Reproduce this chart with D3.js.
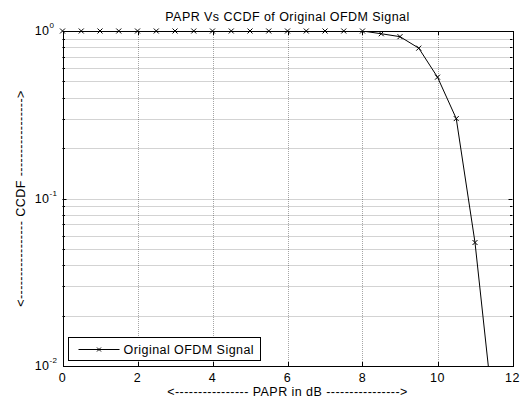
<!DOCTYPE html>
<html>
<head>
<meta charset="utf-8">
<script src="https://cdn.jsdelivr.net/npm/d3@7"></script>
<style>
  body { margin: 0; background: #fff; }
  svg { display: block; font-family: "Liberation Sans", Arial, sans-serif; }
  svg text { letter-spacing: 0.45px; }
</style>
</head>
<body>
<div id="chart"></div>
<script>
// PAPR (dB) vs CCDF of the original OFDM signal
const papr = [0, 0.5, 1, 1.5, 2, 2.5, 3, 3.5, 4, 4.5, 5, 5.5, 6, 6.5, 7, 7.5, 8, 8.5, 9, 9.5, 10, 10.5, 11, 11.5];
const ccdf = [1, 1, 1, 1, 1, 1, 1, 1, 1, 1, 1, 1, 1, 1, 1, 1, 1, 0.963, 0.925, 0.79, 0.53, 0.30, 0.0546, 0.005];
const xTicks = [0, 2, 4, 6, 8, 10, 12];
const yDecades = [-2, -1, 0];

const width = 521, height = 403;
const margin = { top: 31, right: 8.5, bottom: 37, left: 62.5 };
const fs = 12.5;

const svg = d3.select("#chart").append("svg")
    .attr("width", width)
    .attr("height", height);

const x = d3.scaleLinear().domain([0, 12]).range([margin.left, width - margin.right]);
const y = d3.scaleLog().domain([0.01, 1]).range([height - margin.bottom, margin.top]);

const x0 = x.range()[0], x1 = x.range()[1];
const y0 = y.range()[0], y1 = y.range()[1];

// minor log positions (2..9 in each decade)
const minorY = [];
[0.01, 0.1].forEach(base => {
    for (let k = 2; k <= 9; k++) minorY.push(base * k);
});

// grid
const grid = svg.append("g")
    .attr("stroke", "#000")
    .attr("stroke-width", 0.7)
    .attr("stroke-dasharray", "1,1")
    .attr("stroke-opacity", 0.5);

grid.selectAll("line.gy")
    .data(minorY.concat([0.1]))
    .join("line")
    .attr("x1", x0).attr("x2", x1)
    .attr("y1", d => Math.round(y(d)) + 0.5)
    .attr("y2", d => Math.round(y(d)) + 0.5);

grid.selectAll("line.gx")
    .data(xTicks.filter(d => d > 0 && d < 12))
    .join("line")
    .attr("y1", y0).attr("y2", y1)
    .attr("x1", d => Math.round(x(d)) + 0.5)
    .attr("x2", d => Math.round(x(d)) + 0.5);

// tick marks (inward, both sides)
const ticks = svg.append("g").attr("stroke", "#000").attr("stroke-width", 1);
xTicks.forEach(t => {
    const px = Math.round(x(t)) + 0.5;
    ticks.append("line").attr("x1", px).attr("x2", px).attr("y1", y0).attr("y2", y0 - 4);
    ticks.append("line").attr("x1", px).attr("x2", px).attr("y1", y1).attr("y2", y1 + 4);
});
minorY.concat([0.1]).forEach(v => {
    const py = Math.round(y(v)) + 0.5;
    const len = v === 0.1 ? 4 : 2.5;
    ticks.append("line").attr("x1", x0).attr("x2", x0 + len).attr("y1", py).attr("y2", py);
    ticks.append("line").attr("x1", x1).attr("x2", x1 - len).attr("y1", py).attr("y2", py);
});

// frame
svg.append("rect")
    .attr("x", Math.round(x0) + 0.5)
    .attr("y", Math.round(y1) + 0.5)
    .attr("width", Math.round(x1) - Math.round(x0))
    .attr("height", Math.round(y0) - Math.round(y1))
    .attr("fill", "none")
    .attr("stroke", "#000")
    .attr("stroke-width", 1);

// tick labels
svg.append("g")
    .selectAll("text")
    .data(xTicks)
    .join("text")
    .attr("x", d => x(d))
    .attr("y", y0 + 16)
    .attr("text-anchor", "middle")
    .attr("font-size", fs)
    .text(d => d);

const yl = svg.append("g").selectAll("g")
    .data(yDecades)
    .join("g")
    .attr("transform", d => `translate(${x0 - 9},${y(Math.pow(10, d)) + 4})`);
yl.append("text")
    .attr("x", -4)
    .attr("text-anchor", "end")
    .attr("font-size", fs)
    .text("10");
yl.append("text")
    .attr("x", -4)
    .attr("y", -7)
    .attr("font-size", 8)
    .text(d => d);

// clipped data line
svg.append("clipPath").attr("id", "plotclip")
    .append("rect")
    .attr("x", x0).attr("y", y1)
    .attr("width", x1 - x0).attr("height", y0 - y1);

const pts = papr.map((p, i) => [p, ccdf[i]]);
const line = d3.line().x(d => x(d[0])).y(d => y(d[1]));

svg.append("path")
    .datum(pts)
    .attr("clip-path", "url(#plotclip)")
    .attr("d", line)
    .attr("fill", "none")
    .attr("stroke", "#000")
    .attr("stroke-width", 1);

// markers: only those inside the axes range are drawn (MATLAB style)
const ms = 2.5;
svg.append("g").selectAll("path")
    .data(pts.filter(d => d[1] >= 0.01))
    .join("path")
    .attr("d", d => {
        const cx = x(d[0]), cy = y(d[1]);
        return `M${cx - ms},${cy - ms}L${cx + ms},${cy + ms}M${cx - ms},${cy + ms}L${cx + ms},${cy - ms}`;
    })
    .attr("stroke", "#000")
    .attr("stroke-width", 1);

// title and axis labels
svg.append("text")
    .attr("x", (x0 + x1) / 2)
    .attr("y", 20.5)
    .attr("text-anchor", "middle")
    .attr("font-size", fs)
    .text("PAPR Vs CCDF of Original OFDM Signal");

const dashX = "-".repeat(16);
svg.append("text")
    .attr("x", (x0 + x1) / 2)
    .attr("y", 396)
    .attr("text-anchor", "middle")
    .attr("font-size", fs)
    .text(`<${dashX} PAPR in dB ${dashX}>`);

const dashY = "-".repeat(17);
svg.append("text")
    .attr("transform", `translate(24.5,${(y0 + y1) / 2}) rotate(-90)`)
    .attr("text-anchor", "middle")
    .attr("font-size", fs)
    .text(`<${dashY} CCDF ${dashY}>`);

// legend
const lg = svg.append("g").attr("transform", "translate(68.5,337.5)");
lg.append("rect")
    .attr("width", 192).attr("height", 23)
    .attr("fill", "#fff").attr("stroke", "#000").attr("stroke-width", 1);
lg.append("line")
    .attr("x1", 10).attr("x2", 51).attr("y1", 12).attr("y2", 12)
    .attr("stroke", "#000");
lg.append("path")
    .attr("d", `M${30.5 - 2},${12 - 2}L${30.5 + 2},${12 + 2}M${30.5 - 2},${12 + 2}L${30.5 + 2},${12 - 2}`)
    .attr("stroke", "#000");
lg.append("text")
    .attr("x", 55).attr("y", 16.5)
    .attr("font-size", fs)
    .text("Original OFDM Signal");
</script>
</body>
</html>
